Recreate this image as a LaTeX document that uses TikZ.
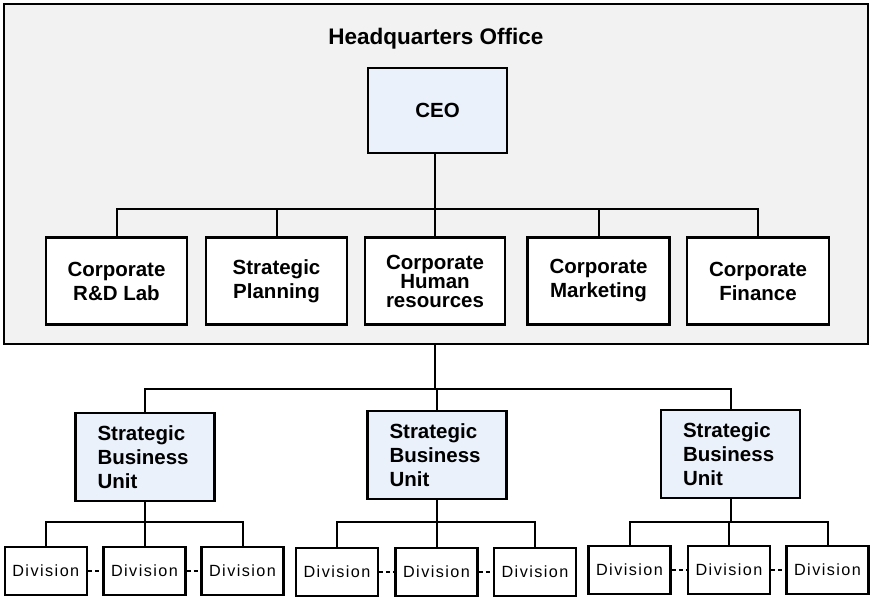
\documentclass[tikz,border=0pt]{standalone}
\usepackage{fontspec}
\setmainfont{Liberation Sans}
\newfontfamily\divfont[LetterSpace=9]{Liberation Sans}
\usetikzlibrary{calc}
\definecolor{hqgray}{HTML}{F2F2F2}
\definecolor{boxblue}{HTML}{EAF1FB}
\begin{document}
\begin{tikzpicture}[x=1pt,y=-1pt,
  conn/.style={line width=2pt},
  dashconn/.style={line width=1.5pt,dash pattern=on 4pt off 3pt},
  orgbox/.style={draw,line width=2.5pt,fill=white,inner sep=0pt,align=center,
    font=\bfseries\fontsize{20.5}{24}\selectfont},
  bluebox/.style={orgbox,fill=boxblue},
  sbubox/.style={bluebox,minimum width=139pt,minimum height=88pt},
  lvbox/.style={orgbox,minimum width=141pt,minimum height=87pt},
  divbox/.style={draw,line width=2.5pt,fill=white,inner sep=0pt,
    minimum width=82pt,minimum height=48pt,font=\divfont\fontsize{16.2}{18}\selectfont}
]
\useasboundingbox (0,0) rectangle (876,603);
\fill[white] (0,0) rectangle (876,603);

% Headquarters frame
\node[draw,line width=2pt,fill=hqgray,minimum width=864pt,minimum height=340pt,inner sep=0pt] (hq) at (436,174) {};
\node[font=\bfseries\fontsize{22.5}{24}\selectfont] (hqtitle) at (436,39) {Headquarters Office};

\node[bluebox,minimum width=139pt,minimum height=85pt] (ceo) at (437.5,110.5) {CEO};

\node[lvbox] (rd) at (116.5,281) {Corporate\\R\&D Lab};
\node[lvbox] (sp) at (276.5,281) {Strategic\\Planning};
\node[lvbox,minimum width=140pt,font=\bfseries\fontsize{20.5}{19}\selectfont] (hr) at (435,281) {Corporate\\Human\\resources};
\node[lvbox,minimum width=142pt] (mk) at (598.5,281) {Corporate\\Marketing};
\node[lvbox,minimum width=142pt] (fi) at (758,281) {Corporate\\Finance};

\coordinate (hqbar) at (0,209);
\draw[conn] (ceo.south -| hr.north) -- (hr.north |- hqbar);
\draw[conn] (rd.north) -- (rd.north |- hqbar) -- (fi.north |- hqbar) -- (fi.north);
\draw[conn] (sp.north) -- (sp.north |- hqbar);
\draw[conn] (hr.north) -- (hr.north |- hqbar);
\draw[conn] (mk.north) -- (mk.north |- hqbar);

% Strategic business units
\node[sbubox] (s1) at (145,457) {\begin{minipage}{95pt}Strategic\\Business\\Unit\end{minipage}};
\node[sbubox] (s2) at (437,455) {\begin{minipage}{95pt}Strategic\\Business\\Unit\end{minipage}};
\node[sbubox] (s3) at (730.5,454) {\begin{minipage}{95pt}Strategic\\Business\\Unit\end{minipage}};

\coordinate (sbar) at (0,389);
\draw[conn] (hq.south -| hr.north) -- (hr.north |- sbar);
\draw[conn] (s1.north) -- (s1.north |- sbar) -- (s3.north |- sbar) -- (s3.north);
\draw[conn] (s2.north) -- (s2.north |- sbar);

% Divisions
\foreach \g/\xa/\xb/\xc/\yy in {1/45.8/144.5/242.5/571, 2/337/436.5/535/572, 3/629.5/729/827.5/570}{
  \node[divbox] (d\g a) at (\xa,\yy) {Division};
  \node[divbox] (d\g b) at (\xb,\yy) {Division};
  \node[divbox] (d\g c) at (\xc,\yy) {Division};
  \draw[dashconn] (d\g a.east) -- (d\g b.west);
  \draw[dashconn] (d\g b.east) -- (d\g c.west);
  \coordinate (dbar\g) at (0,522);
  \draw[conn] (s\g.south) -- (s\g.south |- dbar\g);
  \draw[conn] (d\g a.north) -- (d\g a.north |- dbar\g) -- (d\g c.north |- dbar\g) -- (d\g c.north);
  \draw[conn] (d\g b.north) -- (d\g b.north |- dbar\g);
}
\end{tikzpicture}
\end{document}
